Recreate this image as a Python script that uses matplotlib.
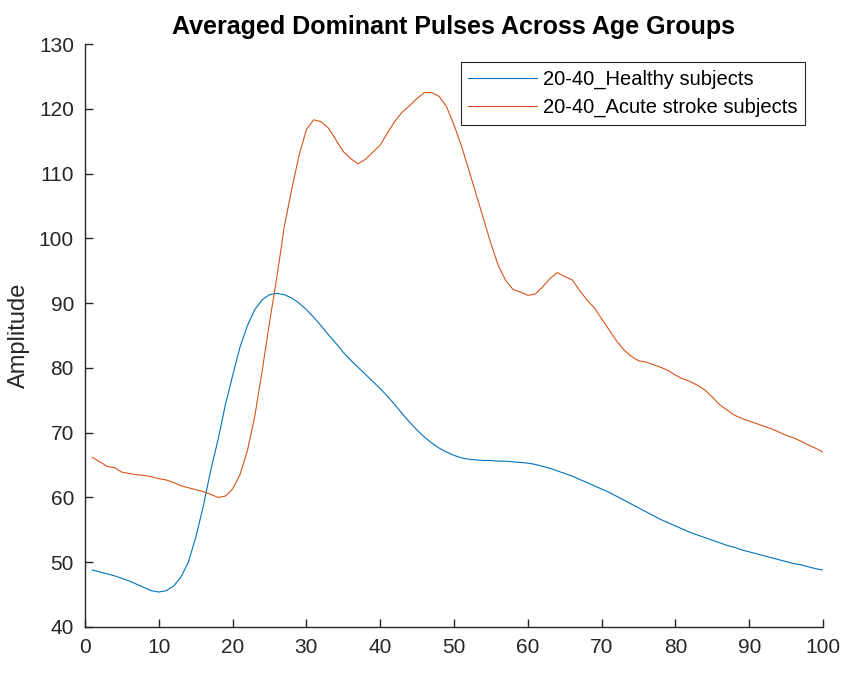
import matplotlib
matplotlib.use("Agg")
import matplotlib.pyplot as plt
import numpy as np

plt.rcParams['font.family'] = ['Liberation Sans', 'DejaVu Sans']

x = list(range(1, 101))
healthy = [48.8, 48.5, 48.2, 47.9, 47.5, 47.1, 46.6, 46.1, 45.6, 45.4,
           45.6, 46.3, 47.7, 50.0, 53.8, 58.5, 64.0, 68.8, 74.2, 78.8,
           83.2, 86.5, 89.0, 90.5, 91.3, 91.5, 91.3, 90.8, 90.0, 89.0,
           87.8, 86.5, 85.1, 83.8, 82.4, 81.2, 80.1, 79.0, 77.9, 76.8,
           75.6, 74.3, 72.9, 71.6, 70.4, 69.3, 68.4, 67.6, 67.0, 66.5,
           66.1, 65.9, 65.8, 65.7, 65.7, 65.6, 65.6, 65.5, 65.4, 65.3,
           65.1, 64.8, 64.5, 64.1, 63.7, 63.3, 62.8, 62.3, 61.8, 61.3,
           60.8, 60.2, 59.6, 59.0, 58.4, 57.8, 57.2, 56.6, 56.1, 55.6,
           55.1, 54.6, 54.2, 53.8, 53.4, 53.0, 52.6, 52.3, 51.9, 51.6,
           51.3, 51.0, 50.7, 50.4, 50.1, 49.8, 49.6, 49.3, 49.0, 48.8]
stroke = [66.2, 65.5, 64.8, 64.6, 63.9, 63.7, 63.5, 63.4, 63.2, 62.9,
          62.7, 62.3, 61.8, 61.5, 61.2, 60.9, 60.5, 60.0, 60.2, 61.3,
          63.5, 67.2, 72.5, 79.5, 87.0, 94.0, 101.8, 107.5, 112.8, 116.8,
          118.3, 118.0, 117.0, 115.2, 113.4, 112.3, 111.5, 112.2, 113.3, 114.4,
          116.3, 118.1, 119.5, 120.5, 121.6, 122.5, 122.5, 121.9, 120.3, 117.5,
          114.3, 110.6, 106.8, 103.0, 99.2, 95.8, 93.5, 92.1, 91.7, 91.2,
          91.4, 92.5, 93.8, 94.7, 94.1, 93.6, 92.0, 90.5, 89.3, 87.6,
          85.9, 84.2, 82.8, 81.8, 81.1, 80.9, 80.5, 80.1, 79.6, 78.9,
          78.3, 77.9, 77.3, 76.6, 75.5, 74.3, 73.5, 72.7, 72.2, 71.8,
          71.4, 71.0, 70.6, 70.1, 69.6, 69.2, 68.7, 68.1, 67.6, 67.0]
labels = ['20-40_Healthy subjects', '20-40_Acute stroke subjects']
colors = ['#0072BD', '#D95319']
title = 'Averaged Dominant Pulses Across Age Groups'

fig = plt.figure(figsize=(8.53, 6.75), dpi=100)
ax = fig.add_axes([85/853, 48/675, (823-85)/853, (627-44)/675])
ax.plot(x, healthy, color=colors[0], lw=0.8, label=labels[0])
ax.plot(x, stroke, color=colors[1], lw=0.8, label=labels[1])

ax.set_xlim(0, 100)
ax.set_ylim(40, 130)
ax.set_xticks(np.arange(0, 101, 10))
ax.set_yticks(np.arange(40, 131, 10))
for s in ['top', 'right']:
    ax.spines[s].set_visible(False)
for s in ['left', 'bottom']:
    ax.spines[s].set_color('#262626')
    ax.spines[s].set_linewidth(1.0)
ax.tick_params(direction='in', length=6, width=1.0, colors='#262626',
               labelsize=15, labelcolor='#262626', pad=8)
ax.set_ylabel('Amplitude', fontsize=17, color='#262626', labelpad=6)
ax.set_title(title, fontsize=18, fontweight='bold', pad=7)

leg = ax.legend(loc='upper right', bbox_to_anchor=((805 - 85)/738, 1 - (62-44)/583),
                bbox_transform=ax.transAxes, fontsize=14.5, fancybox=False,
                framealpha=1, edgecolor='#262626', handlelength=3.4,
                borderpad=0.38, labelspacing=0.45, handletextpad=0.3,
                borderaxespad=0)
leg.get_frame().set_linewidth(0.8)
fig.savefig('out.png', dpi=100)
